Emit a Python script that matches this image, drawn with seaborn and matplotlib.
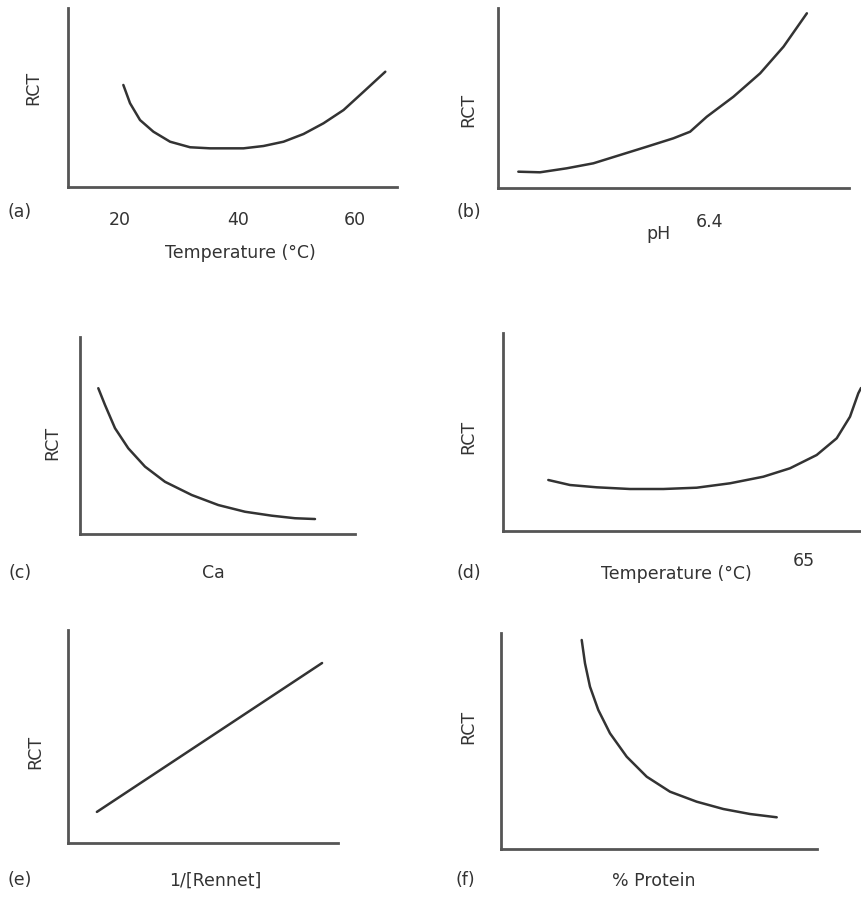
import matplotlib
matplotlib.use("Agg")
import matplotlib.pyplot as plt
import seaborn as sns

sns.set_style("white")
plt.rcParams['font.family'] = ['DejaVu Sans']

W, H = 862, 899
INK = "#333333"
AXC = "#555555"
FS = 12.5

# ---- data (arbitrary RCT units 0-10) ----
# (a) temperature
a_temp = [20.56, 21.70, 23.40, 25.67, 28.51, 31.91, 35.32, 40.99, 44.39, 47.80,
          51.20, 54.60, 58.01, 61.41, 65.11]
a_rct = [5.70, 4.68, 3.74, 3.09, 2.53, 2.22, 2.16, 2.16, 2.29, 2.53,
         2.96, 3.56, 4.30, 5.32, 6.44]
a_ticks = [20, 40, 60]
# (b) pH
b_ph = [6.0385, 6.0796, 6.1302, 6.1807, 6.2313, 6.2819, 6.3323, 6.3640, 6.3956,
        6.4461, 6.4967, 6.5409, 6.5852]
b_rct = [0.906, 0.872, 1.094, 1.372, 1.833, 2.294, 2.761, 3.128, 3.961,
         5.072, 6.372, 7.850, 9.706]
b_ticks = [6.4]
b_ticklabels = ["6.4"]
# (c) Ca
c_ca = [0.665, 0.909, 1.273, 1.756, 2.364, 3.091, 4.062, 5.029, 6.0, 6.971, 7.818, 8.545]
c_rct = [7.40, 6.55, 5.37, 4.35, 3.42, 2.65, 1.98, 1.47, 1.13, 0.93, 0.80, 0.76]
# (d) temperature (high range)
d_temp = [1.262, 1.866, 2.610, 3.538, 4.465, 5.396, 6.323, 7.251, 7.994, 8.738,
          9.295, 9.666, 9.897, 9.972]
d_rct = [2.576, 2.323, 2.207, 2.121, 2.121, 2.187, 2.409, 2.742, 3.167, 3.838,
         4.682, 5.773, 6.955, 7.22]
d_ticks = [8.38]
d_ticklabels = ["65"]
# (e) 1/[Rennet]
e_inv = [1.07, 9.41]
e_rct = [1.46, 8.45]
# (f) % protein
f_prot = [2.554, 2.658, 2.816, 3.079, 3.449, 3.978, 4.611, 5.348, 6.193, 7.035, 7.880, 8.725]
f_rct = [9.676, 8.597, 7.514, 6.435, 5.356, 4.273, 3.347, 2.653, 2.190, 1.852, 1.620, 1.468]

fig = plt.figure(figsize=(W / 100, H / 100), dpi=100)


def make_ax(l, r, t, b):
    ax = fig.add_axes([l / W, 1 - b / H, (r - l) / W, (b - t) / H])
    for s in ("top", "right"):
        ax.spines[s].set_visible(False)
    for s in ("left", "bottom"):
        ax.spines[s].set_color(AXC)
        ax.spines[s].set_linewidth(2.0)
    ax.set_facecolor("none")
    ax.tick_params(length=0, labelsize=FS, colors=INK)
    ax.set_yticks([])
    ax.set_xticks([])
    return ax


def ftext(x, y, s, **kw):
    fig.text(x / W, 1 - y / H, s, ha="center", va="center", fontsize=FS, color=INK, **kw)


def labels(xl, xlab, yl, ylab):
    ftext(xl[0], xl[1], xlab)
    ftext(yl[0], yl[1], ylab, rotation=90)


def curve(ax, x, y):
    sns.lineplot(x=x, y=y, ax=ax, color=INK, linewidth=1.8, sort=False, estimator=None)
    ax.set_xlabel("")
    ax.set_ylabel("")


# (a)
ax = make_ax(68, 397, 8, 187)
curve(ax, a_temp, a_rct)
ax.set_xlim(11.15, 67.1)
ax.set_ylim(0, 10)
ax.set_xticks(a_ticks)
ax.set_xticklabels([str(t) for t in a_ticks])
ax.tick_params(axis="x", pad=17)
labels((240, 253), "Temperature (°C)", (33, 88), "RCT")
ftext(20, 212, "(a)")

# (b)
ax = make_ax(498, 849, 8, 188)
curve(ax, b_ph, b_rct)
ax.set_xlim(6.0, 6.665)
ax.set_ylim(0, 10)
ax.set_xticks(b_ticks)
ax.set_xticklabels(b_ticklabels)
ax.tick_params(axis="x", pad=18)
labels((658, 234), "pH", (468, 110), "RCT")
ftext(469, 212, "(b)")

# (c)
ax = make_ax(80, 355, 337, 534)
curve(ax, c_ca, c_rct)
ax.set_xlim(0, 10)
ax.set_ylim(0, 10)
labels((213, 573), "Ca", (52, 443), "RCT")
ftext(20, 573, "(c)")

# (d)
ax = make_ax(503, 862, 333, 531)
curve(ax, d_temp, d_rct)
ax.set_xlim(0, 10)
ax.set_ylim(0, 10)
ax.set_xticks(d_ticks)
ax.set_xticklabels(d_ticklabels)
ax.tick_params(axis="x", pad=15)
labels((676, 574), "Temperature (°C)", (468, 437), "RCT")
ftext(469, 573, "(d)")

# (e)
ax = make_ax(68, 338, 630, 843)
curve(ax, e_inv, e_rct)
ax.set_xlim(0, 10)
ax.set_ylim(0, 10)
labels((215, 881), "1/[Rennet]", (35, 752), "RCT")
ftext(20, 880, "(e)")

# (f)
ax = make_ax(501, 817, 633, 849)
curve(ax, f_prot, f_rct)
ax.set_xlim(0, 10)
ax.set_ylim(0, 10)
labels((654, 881), "% Protein", (468, 727), "RCT")
ftext(465, 880, "(f)")

fig.savefig("out.png", dpi=100, facecolor="white")
